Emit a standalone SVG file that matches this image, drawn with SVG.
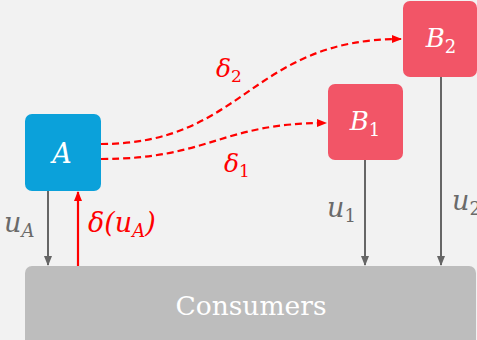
<svg xmlns="http://www.w3.org/2000/svg" width="477" height="340" viewBox="0 0 477 340">
<defs>
<style>
text{font-family:"DejaVu Serif","Liberation Serif","Noto Serif",serif;}
.math{font-style:italic;}
.up{font-style:normal;}
.box{stroke:none;}
.gray{stroke:#666666;stroke-width:2;fill:none;}
.red{stroke:#ff0000;stroke-width:2.2;fill:none;}
.dash{stroke:#ff0000;stroke-width:2.2;fill:none;stroke-dasharray:7 4;}
.wt{fill:#ffffff;}
.gt{fill:#6a6a6a;}
.rt{fill:#ff0000;}
</style>
<marker id="ag" markerWidth="10" markerHeight="10" refX="9" refY="5" orient="auto" markerUnits="userSpaceOnUse">
<path d="M0,1 L10,5 L0,9 Z" fill="#666666"/>
</marker>
<marker id="ar" markerWidth="10" markerHeight="10" refX="9" refY="5" orient="auto" markerUnits="userSpaceOnUse">
<path d="M0,1 L10,5 L0,9 Z" fill="#ff0000"/>
</marker>
</defs>
<rect width="477" height="340" fill="#f2f2f2"/>
<g id="consumers">
<rect class="box" x="25" y="266" width="451" height="84" rx="7" fill="#bdbdbd"/>
<text x="251" y="315" text-anchor="middle" font-size="26.5" fill="#ffffff">Consumers</text>
</g>
<g id="nodeA">
<rect class="box" x="25" y="114" width="76" height="77" rx="7" fill="#0ba1da"/>
<text class="math wt" x="62" y="163" text-anchor="middle" font-size="27">A</text>
</g>
<g id="nodeB1">
<rect class="box" x="328" y="84" width="75" height="76" rx="7" fill="#f25567"/>
<text class="math wt" x="365" y="130" text-anchor="middle" font-size="26">B<tspan class="up" font-size="18" dy="6">1</tspan></text>
</g>
<g id="nodeB2">
<rect class="box" x="403" y="1" width="74" height="76" rx="7" fill="#f25567"/>
<text class="math wt" x="441" y="47" text-anchor="middle" font-size="26">B<tspan class="up" font-size="18" dy="6">2</tspan></text>
</g>
<g id="connectors">
<line class="gray" x1="48" y1="191" x2="48" y2="265" marker-end="url(#ag)"/>
<line class="red" x1="78" y1="266" x2="78" y2="192" marker-end="url(#ar)"/>
<line class="gray" x1="365" y1="160" x2="365" y2="265" marker-end="url(#ag)"/>
<line class="gray" x1="441" y1="77" x2="441" y2="265" marker-end="url(#ag)"/>
<path class="dash" d="M101,144 C245,144 250,39 401,39" marker-end="url(#ar)"/>
<path class="dash" d="M101,159 C210,159 220,123 326,123" marker-end="url(#ar)"/>
</g>
<g id="labels">
<text class="math gt" x="4" y="232" font-size="27">u<tspan font-size="18" dy="5">A</tspan></text>
<text class="math rt" x="88" y="232" font-size="27">δ(u<tspan font-size="18" dy="5">A</tspan><tspan dy="-5">)</tspan></text>
<text class="math gt" x="327" y="217" font-size="27">u<tspan class="up" font-size="18" dy="5">1</tspan></text>
<text class="math gt" x="452" y="210" font-size="27">u<tspan class="up" font-size="18" dy="5">2</tspan></text>
<text class="math rt" x="216" y="77" font-size="25">δ<tspan class="up" font-size="17" dy="5">2</tspan></text>
<text class="math rt" x="224" y="172" font-size="25">δ<tspan class="up" font-size="17" dy="5">1</tspan></text>
</g>
</svg>
